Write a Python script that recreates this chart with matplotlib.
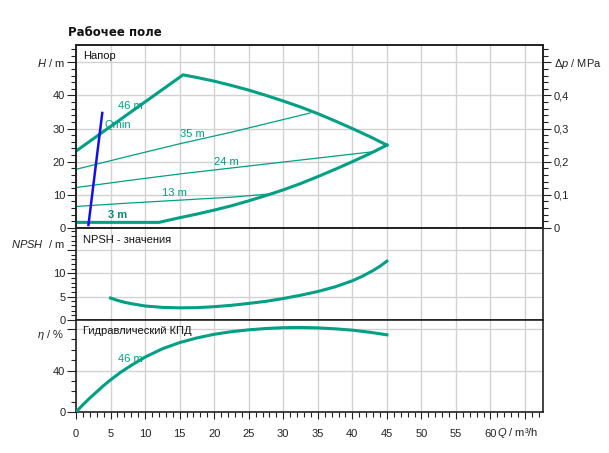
import matplotlib.pyplot as plt
from matplotlib.ticker import MultipleLocator, FixedLocator

plt.rcParams['font.family'] = ['Liberation Sans', 'DejaVu Sans']
plt.rcParams['mathtext.fontset'] = 'custom'
plt.rcParams['mathtext.it'] = 'Liberation Sans:italic'
plt.rcParams['mathtext.rm'] = 'Liberation Sans'

# --- data ---
# max speed curve (46 m) and min curve (3 m), Q in m3/h, H in m
q_max = [0, 15.5, 17.5, 20, 22.5, 25, 27.5, 30, 32.5, 35, 37.5, 40, 42.5, 45]
h_max = [23.2, 46.2, 45.4, 44.3, 43.0, 41.6, 40.0, 38.3, 36.5, 34.5, 32.3, 30.0, 27.6, 25.0]
q_min = [0, 12, 13.5, 15, 17.5, 20, 22.5, 25, 27.5, 30, 32.5, 35, 37.5, 40, 42.5, 45]
h_min = [1.7, 1.7, 2.4, 3.1, 4.2, 5.4, 6.7, 8.2, 9.8, 11.5, 13.4, 15.5, 17.7, 20.0, 22.4, 25.0]
# intermediate curves
q_35 = [0, 7.5, 15, 22.5, 33.9]
h_35 = [17.7, 21.6, 25.4, 28.9, 34.7]
q_24 = [0, 7.5, 15, 22.5, 32.5, 43.4]
h_24 = [12.2, 14.3, 16.3, 18.1, 20.5, 23.1]
q_13 = [0, 7.5, 15, 22.5, 28.8]
h_13 = [6.5, 7.5, 8.4, 9.3, 10.4]
# Qmin line
q_qmin = [1.8, 3.8]
h_qmin = [0.9, 34.7]
# NPSH
q_npsh = [5, 6, 7, 8, 10, 12.5, 15, 17.5, 20, 22.5, 25, 27.5, 30, 32.5, 35,
          37.5, 40, 41.5, 43, 44, 45]
npsh = [4.7, 4.2, 3.8, 3.5, 3.0, 2.7, 2.6, 2.65, 2.85, 3.15, 3.55, 4.0, 4.6,
        5.3, 6.1, 7.1, 8.4, 9.4, 10.6, 11.5, 12.6]
# efficiency
q_eta = [0, 1, 2, 3, 4, 5, 6.5, 8, 10, 12.5, 15, 17.5, 20, 22.5, 25, 27.5, 30,
         32.5, 35, 37.5, 40, 42.5, 45]
eta = [0, 7, 13.5, 19.5, 25.5, 31, 38.5, 45, 53, 61, 67, 71.5, 75, 77.5, 79.3,
       80.6, 81.4, 81.6, 81.2, 80.3, 79.0, 77.0, 74.5]

teal = '#00a084'
grid_c = '#d2d2d2'
W, H = 609, 453

fig = plt.figure(figsize=(W / 100, H / 100), dpi=100)
x0, x1 = 76 / W, 543 / W


def box(top, bottom):
    return [x0, 1 - bottom / H, x1 - x0, (bottom - top) / H]


ax_h = fig.add_axes(box(45, 228))
ax_n = fig.add_axes(box(228, 320))
ax_e = fig.add_axes(box(320, 412))

for ax in (ax_h, ax_n, ax_e):
    ax.set_xlim(0, 67.6)
    ax.xaxis.set_major_locator(MultipleLocator(5))
    ax.xaxis.set_minor_locator(MultipleLocator(1))
    ax.grid(True, which='major', color=grid_c, lw=1.0, zorder=0)
    ax.set_axisbelow(True)
    ax.tick_params(axis='y', which='major', direction='out', length=6.5, width=0.8,
                   labelsize=8, pad=1.2, colors='#222222')
    ax.tick_params(axis='y', which='minor', direction='out', length=3.6, width=0.8,
                   colors='#222222')
    for s in ax.spines.values():
        s.set_linewidth(1.2)
        s.set_color('#222222')

for ax in (ax_h, ax_n):
    ax.tick_params(axis='x', which='both', length=0, labelbottom=False)

ax_e.tick_params(axis='x', which='major', direction='out', length=5, width=0.8,
                 labelsize=8, pad=7.5, colors='#222222')
ax_e.tick_params(axis='x', which='minor', direction='out', length=3.6, width=0.8,
                 colors='#222222')
ax_e.set_xticks(range(0, 66, 5))
ax_e.set_xticklabels([str(v) for v in range(0, 61, 5)] + [''])

# --- head panel ---
ax_h.set_ylim(0, 55.2)
ax_h.yaxis.set_major_locator(FixedLocator([0, 10, 20, 30, 40, 50]))
ax_h.yaxis.set_minor_locator(MultipleLocator(2))
ax_h.set_yticklabels(['0', '10', '20', '30', '40', '$H$ / m'])

ax_h.plot(q_35, h_35, color=teal, lw=0.9, zorder=3)
ax_h.plot(q_24, h_24, color=teal, lw=0.9, zorder=3)
ax_h.plot(q_13, h_13, color=teal, lw=0.9, zorder=3)
ax_h.plot(q_max, h_max, color=teal, lw=2.2, zorder=4, solid_joinstyle='miter')
ax_h.plot(q_min, h_min, color=teal, lw=2.2, zorder=4)
ax_h.plot(q_qmin, h_qmin, color='#1010ee', lw=1.8, zorder=5)

lab = dict(color=teal, fontsize=8, ha='center', va='center', zorder=6)
ax_h.text(7.8, 36.9, '46 m', **lab)
ax_h.text(6.1, 31.1, 'Qmin', **lab)
ax_h.text(16.9, 28.4, '35 m', **lab)
ax_h.text(21.7, 20.0, '24 m', **lab)
ax_h.text(14.2, 10.5, '13 m', **lab)
ax_h.text(6.0, 3.9, '3 m', color='#008f75', fontsize=8, ha='center', va='center',
          fontweight='bold', zorder=6)
ax_h.text(0.0156, 0.969, 'Напор', transform=ax_h.transAxes, fontsize=8,
          va='top', ha='left', color='#111111')

ax_p = ax_h.twinx()
ax_p.set_ylim(0, 0.552)
ax_p.yaxis.set_major_locator(FixedLocator([0, 0.1, 0.2, 0.3, 0.4, 0.5]))
ax_p.yaxis.set_minor_locator(MultipleLocator(0.02))
ax_p.set_yticklabels(['0', '0,1', '0,2', '0,3', '0,4', '$\\Delta p$ / MPa'])
ax_p.tick_params(axis='y', which='major', direction='out', length=5.8, width=0.8,
                 labelsize=8, pad=2, colors='#222222')
ax_p.tick_params(axis='y', which='minor', direction='out', length=3.6, width=0.8,
                 colors='#222222')
for s in ax_p.spines.values():
    s.set_linewidth(1.2)
    s.set_color('#222222')

# --- NPSH panel ---
ax_n.set_ylim(0, 19.7)
ax_n.yaxis.set_major_locator(FixedLocator([0, 5, 10, 15]))
ax_n.yaxis.set_minor_locator(MultipleLocator(1))
ax_n.set_yticklabels(['0', '5', '10', ''])
ax_n.text(-0.025, 16.3, '$NPSH$  / m', transform=ax_n.get_yaxis_transform(),
          fontsize=8, ha='right', va='center', color='#222222')
ax_n.plot(q_npsh, npsh, color=teal, lw=2.2, zorder=4)
ax_n.text(0.0156, 0.924, 'NPSH - значения', transform=ax_n.transAxes, fontsize=8,
          va='top', ha='left', color='#111111')

# --- efficiency panel ---
ax_e.set_ylim(0, 88.8)
ax_e.yaxis.set_major_locator(FixedLocator([0, 40, 80]))
ax_e.yaxis.set_minor_locator(MultipleLocator(10))
ax_e.set_yticklabels(['0', '40', ''])
ax_e.text(-0.025, 74, '$\\eta$ / %', transform=ax_e.get_yaxis_transform(),
          fontsize=8, ha='right', va='center', color='#222222')
ax_e.plot(q_eta, eta, color=teal, lw=2.2, zorder=4)
ax_e.text(7.9, 51.4, '46 m', **lab)
ax_e.text(0.0156, 0.935, 'Гидравлический КПД', transform=ax_e.transAxes, fontsize=8,
          va='top', ha='left', color='#111111')

fig.text(497 / W, 1 - 433 / H, '$Q$ / m³/h', fontsize=8, ha='left', va='center',
         color='#222222')
fig.text(68 / W, 1 - 33 / H, 'Рабочее поле', fontsize=8.5, fontweight='bold',
         family=['DejaVu Sans'], ha='left', va='center', color='#111111')

fig.savefig('out.png', dpi=100)
